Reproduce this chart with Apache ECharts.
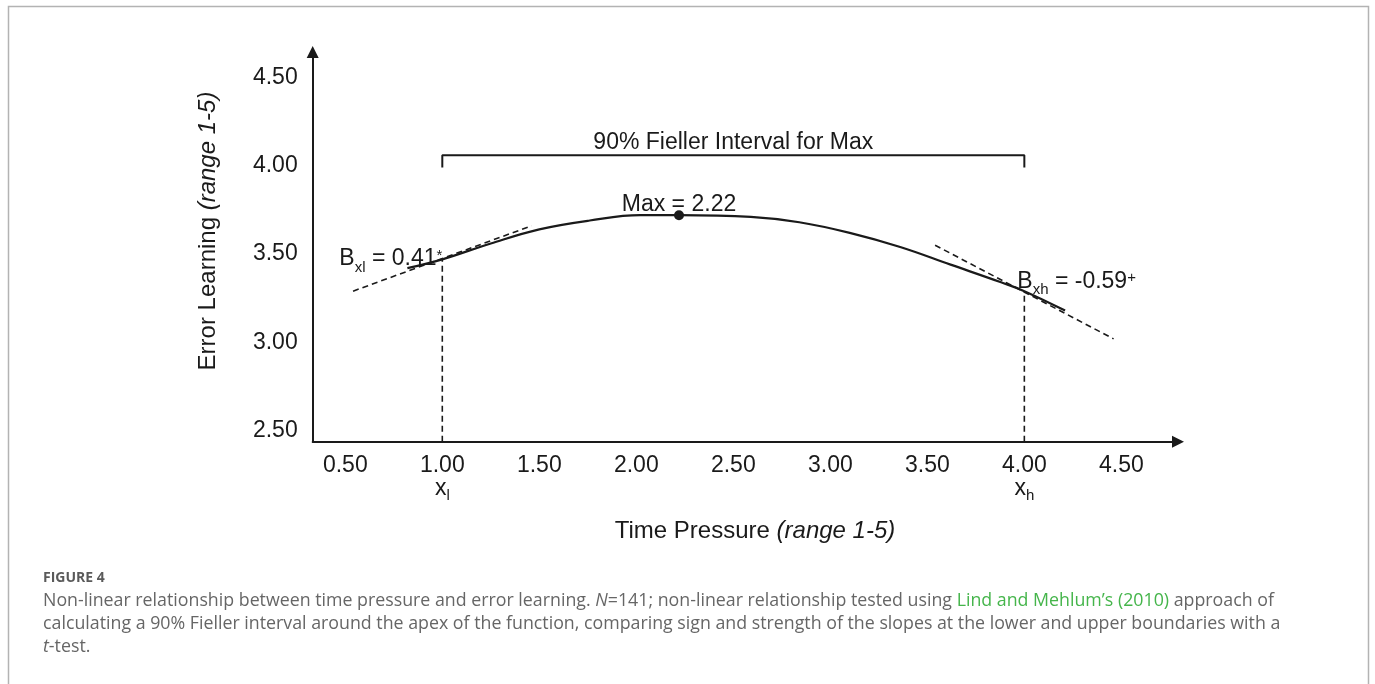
<!DOCTYPE html>
<html><head><meta charset="utf-8">
<script src="https://cdn.jsdelivr.net/npm/echarts@6.0.0/dist/echarts.min.js"></script>
<style>html,body{margin:0;padding:0;background:#fff}#c{width:1375px;height:684px}</style>
</head><body><div id="c"></div>
<script>
// ---- data ----
const curveX = [0.82, 1.00, 1.25, 1.50, 1.76, 2.02, 2.22, 2.59, 2.84, 3.10, 3.36, 3.62, 3.88, 4.00, 4.21];
const curveY = [3.42, 3.47, 3.56, 3.64, 3.69, 3.72, 3.72, 3.71, 3.68, 3.62, 3.54, 3.44, 3.34, 3.29, 3.18];
const maxPoint = [2.22, 3.72];
const tangentLowX = [0.54, 1.46];
const tangentLowY = [3.29, 3.66];
const tangentHighX = [3.54, 4.46];
const tangentHighY = [3.55, 3.02];
const boundsX = [1.00, 4.00];      // x_l, x_h
const boundsY = [3.47, 3.29];      // curve height at the bounds
const fiellerY = [3.99, 4.06];     // bracket foot, bracket top
const xTicks = [0.5, 1, 1.5, 2, 2.5, 3, 3.5, 4, 4.5];
const yTicks = [2.5, 3, 3.5, 4, 4.5];
const xRange = [0.332, 4.792];
const yRange = [2.4377, 4.644];
const slopeLow = '0.41', slopeHigh = '-0.59', maxLabel = '2.22';
const fiellerText = '90% Fieller Interval for Max';

const FONT = 'Liberation Sans, Arial, Helvetica, sans-serif';
const CAP = 'Open Sans, sans-serif';
const INK = '#1a1a1a';
const chart = echarts.init(document.getElementById('c'), null, {renderer: 'canvas'});

const subRich = {
  m: {fontSize: 23, lineHeight: 25, verticalAlign: 'top', color: INK, fontFamily: FONT},
  sub: {fontSize: 15, lineHeight: 15, padding: [13, 0, 0, 0], verticalAlign: 'top', color: INK, fontFamily: FONT},
  sup: {fontSize: 15, lineHeight: 15, padding: [1, 0, 0, 0], verticalAlign: 'top', color: INK, fontFamily: FONT}
};

const dash = {color: INK, width: 1.6, type: [6, 4]};

function pairs(xs, ys) { return xs.map((x, i) => [x, ys[i]]); }

const option = {
  animation: false,
  backgroundColor: '#fff',
  grid: {left: 312.7, right: 197, top: 52, bottom: 242.3, containLabel: false},
  xAxis: {
    type: 'value', min: xRange[0], max: xRange[1],
    splitLine: {show: false},
    axisTick: {show: false},
    axisLine: {show: true, lineStyle: {color: INK, width: 2}, symbol: ['none', 'triangle'], symbolSize: [12, 12]},
    axisLabel: {
      customValues: xTicks, margin: 12, fontSize: 23, lineHeight: 23, color: INK, fontFamily: FONT,
      formatter: function (v) {
        const s = v.toFixed(2);
        if (Math.abs(v - boundsX[0]) < 1e-6) return '{t|' + s + '}\n{x|x}{s|l}';
        if (Math.abs(v - boundsX[1]) < 1e-6) return '{t|' + s + '}\n{x|x}{s|h}';
        return '{t|' + s + '}';
      },
      rich: {
        t: {fontSize: 23, lineHeight: 23, color: INK, fontFamily: FONT},
        x: {fontSize: 23, lineHeight: 23, verticalAlign: 'top', color: INK, fontFamily: FONT},
        s: {fontSize: 15, lineHeight: 15, padding: [12, 0, 0, 0], verticalAlign: 'top', color: INK, fontFamily: FONT}
      }
    }
  },
  yAxis: {
    type: 'value', min: yRange[0], max: yRange[1],
    splitLine: {show: false},
    axisTick: {show: false},
    axisLine: {show: true, lineStyle: {color: INK, width: 2}, symbol: ['none', 'triangle'], symbolSize: [12, 12]},
    axisLabel: {
      customValues: yTicks, margin: 15, fontSize: 23, color: INK, fontFamily: FONT,
      formatter: v => v.toFixed(2)
    }
  },
  series: [
    {type: 'line', name: 'tangent low', data: pairs(tangentLowX, tangentLowY), symbol: 'none', lineStyle: dash, z: 2},
    {type: 'line', name: 'tangent high', data: pairs(tangentHighX, tangentHighY), symbol: 'none', lineStyle: dash, z: 2},
    {type: 'line', name: 'x_l', data: [[boundsX[0], yRange[0]], [boundsX[0], boundsY[0]]], symbol: 'none', lineStyle: dash, z: 2},
    {type: 'line', name: 'x_h', data: [[boundsX[1], yRange[0]], [boundsX[1], boundsY[1]]], symbol: 'none', lineStyle: dash, z: 2},
    {type: 'line', name: 'Fieller bracket',
     data: [[boundsX[0], fiellerY[0]], [boundsX[0], fiellerY[1]], [boundsX[1], fiellerY[1]], [boundsX[1], fiellerY[0]]],
     symbol: 'none', lineStyle: {color: INK, width: 2}, z: 2},
    {type: 'line', name: 'curve', data: pairs(curveX, curveY), symbol: 'none', smooth: 0.4,
     lineStyle: {color: INK, width: 2.2}, z: 3},
    {type: 'scatter', name: 'max', data: [maxPoint], symbolSize: 10, itemStyle: {color: INK, opacity: 1}, z: 4,
     label: {show: true, position: 'inside', offset: [0, -11], formatter: 'Max = ' + maxLabel,
             fontSize: 23, color: INK, fontFamily: FONT, textBorderWidth: 0}},
    {type: 'scatter', name: 'annotations', symbolSize: 0, z: 5, silent: true,
     itemStyle: {color: INK, opacity: 1},
     data: [
       {value: [boundsX[0], boundsY[0]],
        label: {show: true, position: 'left', distance: 0, formatter: '{m|B}{sub|xl}{m| = ' + slopeLow + '}{sup|*}', rich: subRich}},
       {value: [boundsX[1], boundsY[1]],
        label: {show: true, position: 'inside', align: 'left', offset: [-7, -9], formatter: '{m|B}{sub|xh}{m| = ' + slopeHigh + '}{sup|+}', rich: subRich}},
       {value: [(boundsX[0] + boundsX[1]) / 2, 4.13],
        label: {show: true, position: 'inside', formatter: fiellerText, fontSize: 23, color: INK, fontFamily: FONT, textBorderWidth: 0}}
     ]}
  ],
  graphic: [
    {type: 'rect', silent: true, shape: {x: 8.5, y: 6.5, width: 1360, height: 720},
     style: {fill: 'none', stroke: '#b3b3b3', lineWidth: 1.5}},
    {type: 'text', x: 208, y: 231, rotation: Math.PI / 2,
     style: {text: '{n|Error Learning }{i|(range 1-5)}', align: 'center', verticalAlign: 'middle',
             rich: {n: {fontSize: 24, fontFamily: FONT, fill: INK}, i: {fontSize: 24, fontStyle: 'italic', fontFamily: FONT, fill: INK}}}},
    {type: 'text', x: 755, y: 531,
     style: {text: '{n|Time Pressure }{i|(range 1-5)}', align: 'center', verticalAlign: 'middle',
             rich: {n: {fontSize: 24, fontFamily: FONT, fill: INK}, i: {fontSize: 24, fontStyle: 'italic', fontFamily: FONT, fill: INK}}}},
    {type: 'text', x: 43, y: 578,
     style: {text: 'FIGURE 4', fontSize: 14, fontWeight: 'bold', fontFamily: CAP, fill: '#5a5a5a',
             align: 'left', verticalAlign: 'middle'}},
    {type: 'text', x: 43, y: 589,
     style: {
       text: '{n|Non-linear relationship between time pressure and error learning. }{i|N}{n|=141; non-linear relationship tested using }{g|Lind and Mehlum\u2019s (2010)}{n| approach of}\n' +
             '{n|calculating a 90% Fieller interval around the apex of the function, comparing sign and strength of the slopes at the lower and upper boundaries with a}\n' +
             '{i|t}{n|-test.}',
       align: 'left', verticalAlign: 'top',
       rich: {
         n: {fontSize: 17.8, lineHeight: 23, fontFamily: CAP, fill: '#666666'},
         i: {fontSize: 17.8, lineHeight: 23, fontStyle: 'italic', fontFamily: CAP, fill: '#666666'},
         g: {fontSize: 17.8, lineHeight: 23, fontFamily: CAP, fill: '#45b54b'}
       }
     }}
  ]
};
chart.setOption(option);
</script>
</body></html>
